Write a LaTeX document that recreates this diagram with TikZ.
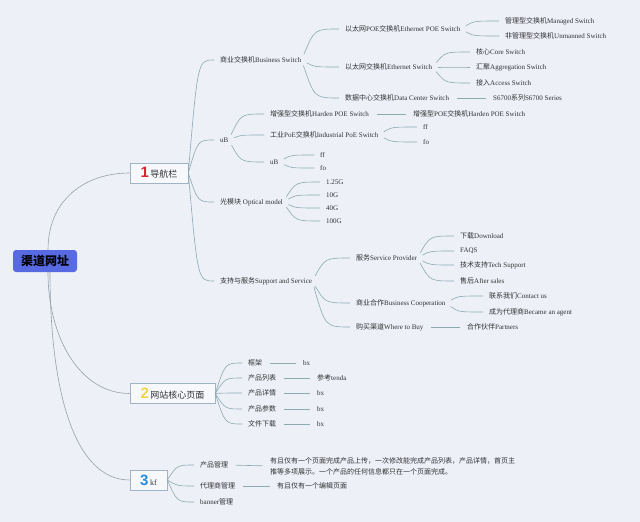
\documentclass[tikz,border=0pt]{standalone}
\usepackage{fontspec}
\setmainfont{Liberation Serif}
\newfontfamily\cjk{Noto Sans CJK SC}
\newfontfamily\numf{Liberation Sans}
\newcommand\zh[1]{{\cjk #1}}
\usetikzlibrary{calc}
\definecolor{bg}{RGB}{238,240,248}
\definecolor{lnc}{RGB}{140,170,176}
\definecolor{rootc}{RGB}{150,160,170}
\definecolor{rootblue}{RGB}{88,106,226}
\definecolor{boxline}{RGB}{160,180,198}
\definecolor{boxfill}{RGB}{246,248,252}
\definecolor{txt}{RGB}{50,50,50}
\definecolor{numred}{RGB}{218,36,48}
\definecolor{numyel}{RGB}{240,214,70}
\definecolor{numblue}{RGB}{40,140,222}
\newcommand\cbr[3][br]{\draw[#1] let \p1=(#2.east), \p2=(#3.west) in (\p1) .. controls ({\x1+0.3*(\x2-\x1)},{\y2}) .. (\p2);}
\newcommand\sbr[2]{\draw[sl] (#1.east) -- (#2.west);}
\begin{document}
\begin{tikzpicture}[x=1pt,y=-1pt,
  t/.style={anchor=west, inner xsep=0pt, inner ysep=1pt, text=txt, font=\fontsize{7}{8}\selectfont},
  rootbox/.style={fill=rootblue, rounded corners=3pt, minimum width=64, minimum height=22, inner sep=2pt, text=black, font=\cjk\bfseries\fontsize{12}{12}\selectfont},
  box/.style={draw=boxline, fill=boxfill, line width=0.6pt, minimum height=20, inner sep=2pt, text=txt, font=\fontsize{9}{10}\selectfont},
  br/.style={draw=lnc, line width=0.6pt, shorten <=6pt, shorten >=6pt},
  brb/.style={draw=lnc, line width=0.6pt, shorten >=6pt},
  sl/.style={draw=lnc, line width=0.6pt, shorten <=7.5pt, shorten >=7.5pt},
  rl/.style={draw=rootc, line width=0.6pt}]
\fill[bg] (0,0) rectangle (640,522);
\useasboundingbox (0,0) rectangle (640,522);

% main nodes
\node[rootbox] (root) at (45,261) {渠道网址};
\node[box, minimum width=58] (n1) at (159,173) {{\numf\bfseries\fontsize{15}{15}\selectfont\color{numred}1}\,\zh{导航栏}};
\node[box, minimum width=85] (n2) at (172.5,393.5) {{\numf\bfseries\fontsize{15}{15}\selectfont\color{numyel}2}\,\zh{网站核心页面}};
\node[box, minimum width=37] (n3) at (148.5,480) {{\numf\bfseries\fontsize{15}{15}\selectfont\color{numblue}3}\,{\fontsize{8}{8}\selectfont kf}};

\draw[rl] ([xshift=3pt]root.north) .. controls +(0,-50) and +(-45,0) .. (n1.west);
\draw[rl] ([xshift=3pt]root.south) .. controls +(0,65) and +(-50,0) .. (n2.west);
\draw[rl] ([xshift=5pt]root.south) .. controls +(0,120) and +(-55,0) .. (n3.west);

% level 2 of node 1
\node[t] (bs) at (220,60) {\zh{商业交换机}Business Switch};
\node[t] (ub) at (220,140) {uB};
\node[t] (om) at (220,202) {\zh{光模块} Optical model};
\node[t] (ss) at (220,281) {\zh{支持与服务}Support and Service};
\cbr[brb]{n1}{bs}
\cbr[brb]{n1}{ub}
\cbr[brb]{n1}{om}
\cbr[brb]{n1}{ss}

% business switch
\node[t] (ep) at (345,29) {\zh{以太网}POE\zh{交换机}Ethernet POE Switch};
\node[t] (es) at (345,67) {\zh{以太网交换机}Ethernet Switch};
\node[t] (dc) at (345,98) {\zh{数据中心交换机}Data Center Switch};
\cbr{bs}{ep}
\cbr{bs}{es}
\cbr{bs}{dc}
\node[t] (ms) at (505,21) {\zh{管理型交换机}Managed Switch};
\node[t] (us) at (505,36) {\zh{非管理型交换机}Unmanned Switch};
\cbr{ep}{ms}
\cbr{ep}{us}
\node[t] (cs) at (476,52) {\zh{核心}Core Switch};
\node[t] (ags) at (476,67) {\zh{汇聚}Aggregation Switch};
\node[t] (acs) at (476,83) {\zh{接入}Access Switch};
\cbr{es}{cs}
\cbr{es}{ags}
\cbr{es}{acs}
\node[t] (s67) at (493,98) {S6700\zh{系列}S6700 Series};
\sbr{dc}{s67}

% uB
\node[t] (hp) at (270,114) {\zh{增强型交换机}Harden POE Switch};
\node[t] (ip) at (270,135) {\zh{工业}PoE\zh{交换机}Industrial PoE Switch};
\node[t] (ub2) at (270,162) {uB};
\cbr{ub}{hp}
\cbr{ub}{ip}
\cbr{ub}{ub2}
\node[t] (hp2) at (413,114) {\zh{增强型}POE\zh{交换机}Harden POE Switch};
\sbr{hp}{hp2}
\node[t] (ff1) at (423,127) {ff};
\node[t] (fo1) at (423,142) {fo};
\cbr{ip}{ff1}
\cbr{ip}{fo1}
\node[t] (ff2) at (320,155) {ff};
\node[t] (fo2) at (320,168) {fo};
\cbr{ub2}{ff2}
\cbr{ub2}{fo2}

% optical
\node[t] (g1) at (326,182) {1.25G};
\node[t] (g2) at (326,195) {10G};
\node[t] (g3) at (326,208) {40G};
\node[t] (g4) at (326,221) {100G};
\cbr{om}{g1}
\cbr{om}{g2}
\cbr{om}{g3}
\cbr{om}{g4}

% support
\node[t] (sp) at (356,258) {\zh{服务}Service Provider};
\node[t] (bc) at (356,303) {\zh{商业合作}Business Cooperation};
\node[t] (wb) at (356,327) {\zh{购买渠道}Where to Buy};
\cbr{ss}{sp}
\cbr{ss}{bc}
\cbr{ss}{wb}
\node[t] (dl) at (460,236) {\zh{下载}Download};
\node[t] (fq) at (460,251) {FAQS};
\node[t] (ts) at (460,265) {\zh{技术支持}Tech Support};
\node[t] (af) at (460,281) {\zh{售后}After sales};
\cbr{sp}{dl}
\cbr{sp}{fq}
\cbr{sp}{ts}
\cbr{sp}{af}
\node[t] (cu) at (489,296) {\zh{联系我们}Contact us};
\node[t] (ag) at (489,312) {\zh{成为代理商}Became an agent};
\cbr{bc}{cu}
\cbr{bc}{ag}
\node[t] (pt) at (467,327) {\zh{合作伙伴}Partners};
\sbr{wb}{pt}

% node 2
\node[t] (kj) at (248,363) {\zh{框架}};
\node[t] (cl) at (248,378) {\zh{产品列表}};
\node[t] (xq) at (248,393) {\zh{产品详情}};
\node[t] (cc) at (248,409) {\zh{产品参数}};
\node[t] (wj) at (248,424) {\zh{文件下载}};
\cbr[brb]{n2}{kj}
\cbr[brb]{n2}{cl}
\cbr[brb]{n2}{xq}
\cbr[brb]{n2}{cc}
\cbr[brb]{n2}{wj}
\node[t] (bx1) at (303,363) {bx};
\node[t] (ck) at (317,378) {\zh{参考}tenda};
\node[t] (bx2) at (317,393) {bx};
\node[t] (bx3) at (317,409) {bx};
\node[t] (bx4) at (317,424) {bx};
\sbr{kj}{bx1}
\sbr{cl}{ck}
\sbr{xq}{bx2}
\sbr{cc}{bx3}
\sbr{wj}{bx4}

% node 3
\node[t] (pg) at (200,465) {\zh{产品管理}};
\node[t] (dg) at (200,486) {\zh{代理商管理}};
\node[t] (bn) at (200,502) {banner\zh{管理}};
\cbr[brb]{n3}{pg}
\cbr[brb]{n3}{dg}
\cbr[brb]{n3}{bn}
\node[t, align=left, font=\cjk\fontsize{7}{11}\selectfont] (lt) at (270,466) {有且仅有一个页面完成产品上传，一次修改能完成产品列表，产品详情，首页主\\推等多项展示。一个产品的任何信息都只在一个页面完成。};
\node[t] (ed) at (277,486) {\zh{有且仅有一个编辑页面}};
\sbr{pg}{lt}
\sbr{dg}{ed}
\end{tikzpicture}
\end{document}
